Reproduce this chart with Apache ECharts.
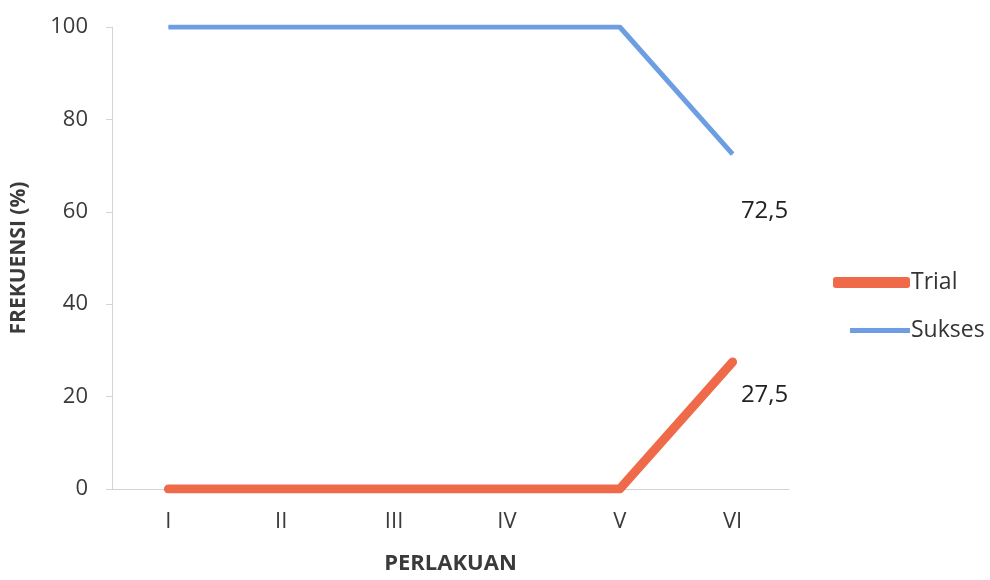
<!DOCTYPE html>
<html><head><meta charset="utf-8">
<script src="https://cdn.jsdelivr.net/npm/echarts@6/dist/echarts.min.js"></script>
<style>html,body{margin:0;padding:0;background:#fff}#c{width:990px;height:580px}</style>
</head><body><div id="c"></div>
<script>
const categories = ['I','II','III','IV','V','VI'];
const trial = [0, 0, 0, 0, 0, 27.5];
const sukses = [100, 100, 100, 100, 100, 72.5];
const yTicks = [0, 20, 40, 60, 80, 100];

const FONT = '"Open Sans", "Noto Sans", sans-serif';
const TRIAL_C = '#EF6A49';
const SUKSES_C = '#6E9EE2';

function withLastLabel(arr, offset) {
  return arr.map((v, i) => i === arr.length - 1 ? {
    value: v,
    label: { show: true, position: 'inside', offset: offset,
      formatter: p => String(p.value).replace('.', ','),
      fontFamily: FONT, fontSize: 24, color: '#222' }
  } : v);
}

const chart = echarts.init(document.getElementById('c'), null, {renderer: 'canvas'});
chart.setOption({
  animation: false,
  backgroundColor: '#fff',
  grid: { left: 112, right: 201, top: 27, bottom: 85, containLabel: false },
  xAxis: {
    type: 'category', data: categories, boundaryGap: true,
    axisLine: { lineStyle: { color: '#d4d4d4', width: 1 } },
    axisTick: { show: false },
    axisLabel: { fontFamily: FONT, fontSize: 22, color: '#3a3a3a', margin: 22 },
    name: 'PERLAKUAN', nameLocation: 'middle', nameGap: 64,
    nameTextStyle: { fontFamily: FONT, fontSize: 22, fontWeight: 'bold', color: '#3a3a3a' }
  },
  yAxis: {
    type: 'value', min: yTicks[0], max: yTicks[yTicks.length - 1], interval: 20,
    axisLine: { show: true, lineStyle: { color: '#d4d4d4', width: 1 } },
    axisTick: { show: true, length: 6, lineStyle: { color: '#d4d4d4' } },
    splitLine: { show: false },
    axisLabel: { fontFamily: FONT, fontSize: 22, color: '#3a3a3a', margin: 24 },
    name: 'FREKUENSI (%)', nameLocation: 'middle', nameGap: 82, nameRotate: 90,
    nameTextStyle: { fontFamily: FONT, fontSize: 21, fontWeight: 'bold', color: '#3a3a3a' }
  },
  legend: [
    { data: [{ name: 'Trial', icon: 'roundRect', itemStyle: { color: TRIAL_C } }],
      left: 828, top: 266, itemWidth: 77, itemHeight: 11, itemGap: 0,
      textStyle: { fontFamily: FONT, fontSize: 23, color: '#333', padding: [0,0,0,-4] } },
    { data: [{ name: 'Sukses', icon: 'rect', itemStyle: { color: SUKSES_C } }],
      left: 845, top: 314, itemWidth: 60, itemHeight: 5, itemGap: 0,
      textStyle: { fontFamily: FONT, fontSize: 23, color: '#333', padding: [0,0,0,-4] } }
  ],
  series: [
    { name: 'Sukses', type: 'line', data: withLastLabel(sukses, [32, 57]),
      symbol: 'circle', symbolSize: 1, itemStyle: { color: SUKSES_C },
      lineStyle: { color: SUKSES_C, width: 5, cap: 'butt' } },
    { name: 'Trial', type: 'line', data: withLastLabel(trial, [32, 33]),
      symbol: 'circle', symbolSize: 1, itemStyle: { color: TRIAL_C },
      lineStyle: { color: TRIAL_C, width: 9, cap: 'round', join: 'round' } }
  ]
});
</script></body></html>
